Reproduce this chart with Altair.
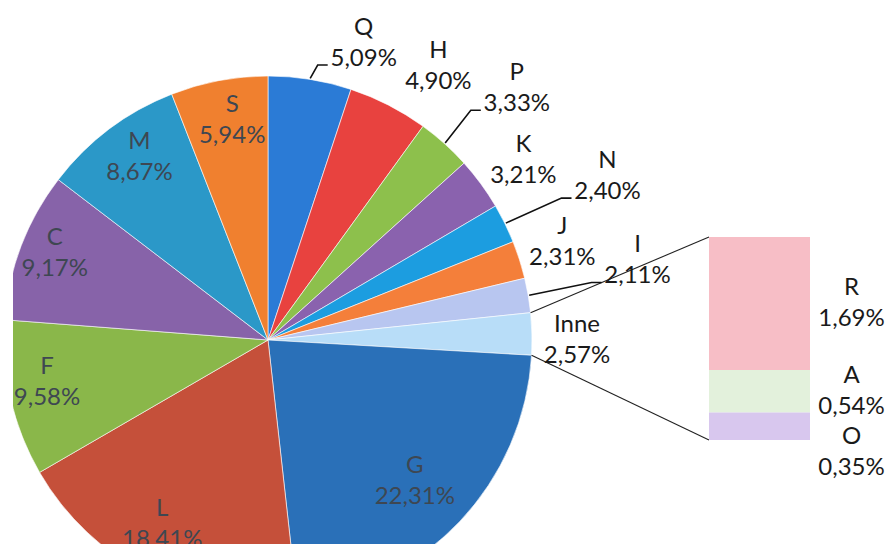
import math
import altair as alt
import pandas as pd

# ---------------- data ----------------
pie_names = ["Q", "H", "P", "K", "N", "J", "I", "Inne", "G", "L", "F", "C", "M", "S"]
pie_values = [5.09, 4.90, 3.33, 3.21, 2.40, 2.31, 2.11, 2.57, 22.31, 18.41, 9.58, 9.17, 8.67, 5.94]
pie_labels = ["5,09%", "4,90%", "3,33%", "3,21%", "2,40%", "2,31%", "2,11%", "2,57%",
              "22,31%", "18,41%", "9,58%", "9,17%", "8,67%", "5,94%"]

bar_names = ["R", "A", "O"]
bar_values = [1.69, 0.54, 0.35]
bar_labels = ["1,69%", "0,54%", "0,35%"]

# ---------------- style ----------------
pie_colors = ["#2B7BD6", "#E8423F", "#8DC04C", "#8A62AE", "#1C9DE0", "#F47F3A", "#B8C6F0",
              "#B8DDF8", "#2A70B8", "#C5503A", "#8AB74A", "#8763A9", "#2B98C8", "#F0802F"]
bar_colors = ["#F7BEC6", "#E3F1DC", "#D8C7EE"]

FONT = "Lato"
FS = 24
LH = 31
DY = -LH / 2
W, H = 874, 536
CX, CY, R = 255, 332, 264
BAR_X0, BAR_X1, BAR_TOP, BAR_BOT = 696, 797, 229, 432

# label placement: name -> (radius px, angular offset deg, inside?)
label_layout = {
    "Q": (312, 8.7, False), "H": (322, 4.8, False), "P": (354, 2.7, False),
    "K": (312, 1.2, False), "N": (377, 0.4, False), "J": (310, -0.6, False),
    "I": (378, -2.4, False), "Inne": (309, 1.4, False), "G": (204, 0.5, True),
    "L": (213, 3.0, True), "F": (225, 2.0, True), "C": (230, 1.1, True),
    "M": (223, 1.8, True), "S": (222, 1.4, True),
}
leader_names = ["Q", "P", "N", "I"]
INSIDE_COLOR = "#3E4752"
OUTSIDE_COLOR = "#1A1A1A"

# ---------------- derived tables ----------------
pie_df = pd.DataFrame({"name": pie_names, "value": pie_values, "order": list(range(len(pie_names)))})

total = sum(pie_values)
cum = 0.0
lab_rows, line_rows = [], []
starts = {}
for n, v, lab in zip(pie_names, pie_values, pie_labels):
    starts[n] = (cum, cum + v)
    mid = (cum + v / 2) / total * 2 * math.pi
    r, off, inside = label_layout[n]
    th = mid + math.radians(off)
    lab_rows.append({"name": n, "txt": n + "\n" + lab, "lt": th, "lr": r,
                     "tc": INSIDE_COLOR if inside else OUTSIDE_COLOR})
    if n in leader_names:
        lx, ly = CX + r * math.sin(th), CY - r * math.cos(th)
        sx, sy = CX + (R + 1) * math.sin(mid), CY - (R + 1) * math.cos(mid)
        ex, ey = lx - 36, ly + 22
        line_rows += [{"id": n, "s": 0, "px": sx, "py": sy},
                      {"id": n, "s": 1, "px": ex - 10, "py": ey},
                      {"id": n, "s": 2, "px": ex, "py": ey}]
    cum += v
lab_df = pd.DataFrame(lab_rows)
lead_df = pd.DataFrame(line_rows)

a0 = starts["Inne"][0] / total * 2 * math.pi
a1 = starts["Inne"][1] / total * 2 * math.pi
conn_df = pd.DataFrame([
    {"id": "top", "s": 0, "px": CX + R * math.sin(a0), "py": CY - R * math.cos(a0)},
    {"id": "top", "s": 1, "px": BAR_X0, "py": BAR_TOP},
    {"id": "bot", "s": 0, "px": CX + R * math.sin(a1), "py": CY - R * math.cos(a1)},
    {"id": "bot", "s": 1, "px": BAR_X0, "py": BAR_BOT},
])

btotal = sum(bar_values)
# stacked from bottom: O, A, R (R on top)
y0s, y1s, ms = {}, {}, {}
c = 0.0
for n, v in reversed(list(zip(bar_names, bar_values))):
    y0s[n], y1s[n] = c, c + v
    ms[n] = c + v / 2
    c += v
bar_df = pd.DataFrame({"name": bar_names, "grp": ["Inne"] * 3,
                       "y0": [y0s[n] for n in bar_names], "y1": [y1s[n] for n in bar_names],
                       "ym": [ms[n] for n in bar_names],
                       "txt": [n + "\n" + l for n, l in zip(bar_names, bar_labels)]})

# ---------------- chart ----------------
arcs = alt.Chart(pie_df).mark_arc(outerRadius=R, stroke="#FFFFFF", strokeWidth=0.6, clip=True).encode(
    theta=alt.Theta("value:Q", stack=True),
    order=alt.Order("order:Q"),
    color=alt.Color("name:N", scale=alt.Scale(domain=pie_names, range=pie_colors), legend=None),
    x=alt.value(CX), y=alt.value(CY),
)

texts = alt.Chart(lab_df).mark_text(font=FONT, fontSize=FS, lineBreak="\n", lineHeight=LH,
                                    align="center", baseline="middle", dy=DY).encode(
    x=alt.value(CX), y=alt.value(CY),
    theta=alt.Theta("lt:Q", scale=None, stack=False),
    radius=alt.Radius("lr:Q", scale=None),
    text="txt:N",
    color=alt.Color("tc:N", scale=None),
)

leaders = alt.Chart(lead_df).mark_line(color="#111111", strokeWidth=1.6).encode(
    x=alt.X("px:Q", scale=None, axis=None), y=alt.Y("py:Q", scale=None, axis=None),
    detail="id:N", order="s:Q",
)
connectors = alt.Chart(conn_df).mark_line(color="#222222", strokeWidth=1.1).encode(
    x=alt.X("px:Q", scale=None, axis=None), y=alt.Y("py:Q", scale=None, axis=None),
    detail="id:N", order="s:Q",
)

xband = alt.Scale(domain=["Inne"], range=[BAR_X0, BAR_X1], paddingInner=0, paddingOuter=0)
ylin = alt.Scale(domain=[0, btotal], range=[BAR_BOT, BAR_TOP])
bars = alt.Chart(bar_df).mark_bar().encode(
    x=alt.X("grp:N", scale=xband, axis=None),
    y=alt.Y("y0:Q", scale=ylin, axis=None), y2="y1:Q",
    color=alt.Color("name:N", scale=alt.Scale(domain=bar_names, range=bar_colors), legend=None),
)
bar_text_main = alt.Chart(bar_df).transform_filter(alt.datum.name != "O").mark_text(
    font=FONT, fontSize=FS, lineBreak="\n", lineHeight=LH, align="center", baseline="middle",
    dx=92, dy=DY, color=OUTSIDE_COLOR).encode(
    x=alt.X("grp:N", scale=xband, axis=None), y=alt.Y("ym:Q", scale=ylin, axis=None), text="txt:N")
bar_text_o = alt.Chart(bar_df).transform_filter(alt.datum.name == "O").mark_text(
    font=FONT, fontSize=FS, lineBreak="\n", lineHeight=LH, align="center", baseline="middle",
    dx=92, dy=DY + 26, color=OUTSIDE_COLOR).encode(
    x=alt.X("grp:N", scale=xband, axis=None), y=alt.Y("ym:Q", scale=ylin, axis=None), text="txt:N")

chart = alt.layer(arcs, connectors, leaders, texts, bars, bar_text_main, bar_text_o).resolve_scale(
    x="independent", y="independent", color="independent", theta="independent"
).properties(
    width=W, height=H, autosize="none",
    padding={"left": 5, "top": 0, "right": 0, "bottom": 0},
    background="#FFFFFF",
).configure_view(stroke=None)

chart.save("out.html", embed_options={"renderer": "svg", "actions": False})
